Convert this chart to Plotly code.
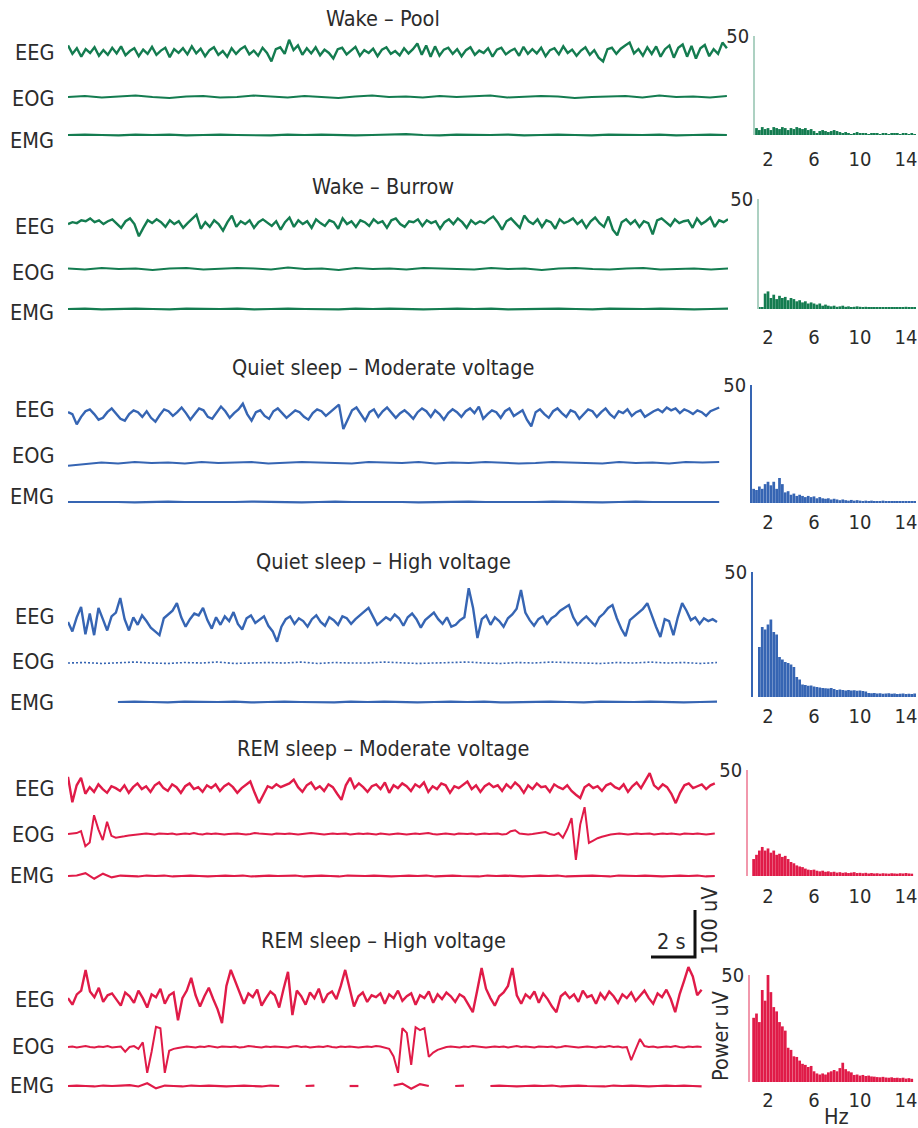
import plotly.graph_objects as go

# ---------------- data ----------------
TITLES = ["Wake \u2013 Pool", "Wake \u2013 Burrow", "Quiet sleep \u2013 Moderate voltage",
          "Quiet sleep \u2013 High voltage", "REM sleep \u2013 Moderate voltage", "REM sleep \u2013 High voltage"]
CHANNELS = ["EEG", "EOG", "EMG"]

# EEG in uV (0.2 s steps)
EEG_WAKE_POOL = [14, -4, 8, -10, 6, -2, 10, -8, 4, -6, 9, -3, 12, -7, 2, 8, -9, 5, -4, 11,
                 -6, 3, 9, -11, 6, -2, 8, -5, 12, -3, 7, -9, 4, 10, -6, 2, -10, 8, -4, 6,
                 12, -5, 3, -8, 9, -2, -20, 6, 10, -4, 26, 4, 14, -6, 8, -3, 10, -7, 5, -2,
                 -14, 6, 9, -5, 3, 11, -8, 4, -2, 7, -9, 5, 10, -4, 2, -7, 8, -3, 6, 18,
                 -6, 14, -10, 12, -8, 5, 9, -4, 6, -9, 4, 10, -6, 3, -2, 8, -10, 5, 9, -5,
                 2, 7, -8, 11, -4, 6, -3, 9, -9, 4, 8, -5, 12, -2, 5, -8, 3, 10, -6, 4,
                 -12, -20, 6, 9, -4, 7, 14, 20, -3, 6, -8, 10, -4, 12, -10, 6, 14, -12, 9, 16,
                 -10, 13, -14, 8, 15, -9, 6, -4, 20, 8]
EEG_WAKE_BURROW = [2, 6, 4, 10, 8, 14, 6, 10, 2, 8, 12, 4, -6, 8, 14, 2, -24, -6, 10, 4,
                   12, 6, -4, 10, 2, 8, -6, 4, 12, 22, -8, 6, -4, 10, 2, -12, 6, 20, -4, 8,
                   2, 10, -6, 6, 12, 4, -2, 8, -10, 6, 16, -4, 10, 2, 8, -6, 12, 4, -2, 10,
                   6, -8, 14, 2, 8, -4, 10, 6, -2, 12, 4, 8, -6, 10, 14, 2, -4, 8, 6, 12,
                   -2, 10, 4, 8, -8, 6, 12, 2, 14, 6, -6, 10, 2, 8, 4, 12, 18, 6, -10, 8,
                   14, 4, -6, 20, 8, 2, 12, -4, 10, 6, -8, 12, 4, 8, 14, 2, 10, -6, 8, 16,
                   4, -4, 18, -10, -22, 6, 12, 2, 10, -4, 8, 4, -20, 10, 14, 6, -2, 12, 4, 8,
                   10, -6, 14, 2, 8, 16, -4, 10, 6, 12]
EEG_QS_MODERATE = [6, 2, -20, -4, 8, 12, 2, -10, -6, 6, 14, 4, -8, -12, 2, 10, 6, -4, 8, -6,
                   -14, 0, 12, 8, -2, 6, 16, 4, -10, 2, 14, 10, -4, -8, 6, 18, 8, -6, 4, 12,
                   24, 2, -12, 6, 10, -2, -8, 8, 14, 4, -6, 2, 10, 6, -4, -10, 4, 12, 8, -2,
                   6, 14, 22, -30, -8, 10, 16, 2, -12, 6, 12, -4, 8, 16, 6, -6, 4, 10, 2, -8,
                   6, 14, 8, -4, 10, 2, -10, 4, 12, 6, -4, 8, 14, 4, 18, -8, 2, 10, 6, -6,
                   8, 14, -2, 4, 10, -10, -24, 6, 12, 2, -6, 8, 14, 4, -4, 10, 6, -8, 2, 12,
                   8, -4, 6, 14, 2, -6, 8, 4, 12, -2, 6, 10, -4, 2, 8, 12, 6, 16, 10, 14,
                   4, 12, 8, 2, 10, 6, -2, 8, 12, 16]
EEG_QS_HIGH = [0, -20, 10, 32, -26, 18, -28, 30, 6, -18, 12, 20, 51, 6, -18, 10, -6, 14, 2, -12,
               -20, -28, 8, 16, 24, 40, 10, -10, 6, 18, 14, 30, 4, -14, 10, -6, 12, 2, 21, -4,
               -16, 8, 14, -2, 6, 12, -8, -20, -42, -10, 6, 12, -4, 8, 2, -10, 6, 14, 0, -8,
               10, 4, -6, 12, 8, -4, 6, 14, 20, 30, 12, -6, 2, 10, 4, 16, 8, -8, 10, 18,
               6, -12, 4, 12, 20, 6, -4, 10, -10, -6, 4, 10, 72, 30, -34, 6, 14, -6, 10, 2,
               -10, 8, 16, 28, 68, 20, 4, -8, 6, 12, -4, 8, 14, 24, 30, 36, 10, -6, 4, 12,
               2, -8, 10, 18, 30, 36, 8, -14, -30, 4, 12, 20, 28, 40, 14, -10, -32, 6, 2, -28,
               10, 40, 24, 4, 10, -4, 8, 2, 6, 0]
EEG_REM_MODERATE = [28, -26, 10, 26, -8, 6, -4, 12, 2, -6, 8, 4, -2, 10, -6, 6, 14, 2, 8, -4,
                    10, 16, 4, -2, 12, 6, -6, 8, 14, 2, 6, -4, 10, 4, 12, -2, 8, 14, 6, -6,
                    4, 12, 18, -6, -28, -10, 8, 4, 12, 6, 10, 14, 22, 6, -4, 10, 16, 2, 8, -2,
                    12, 6, -8, -21, 10, 26, 4, 14, 6, -4, 8, 12, 2, 16, -6, 10, 4, 14, 8, -2,
                    12, 6, 16, -4, 8, 2, 14, 10, -6, 8, 4, 12, 18, 2, 10, -4, 8, 14, 6, 10,
                    -2, 12, 4, 16, 8, -6, 10, 2, 14, 6, 8, -4, 12, 6, 2, 10, -2, -10, -17, 6,
                    12, 4, 8, -2, 10, 14, 6, 2, 12, -4, 8, 16, 4, 20, 36, 10, 2, 12, 6, -8,
                    -28, -6, 10, 14, 4, 8, 12, 2, 10, 14]
EEG_REM_HIGH = [4, -10, 12, 20, 64, 18, 6, 26, -4, 10, 14, 2, -12, 16, 8, -6, 20, 4, -16, 12,
                6, 24, -8, 10, 16, -43, 4, 20, 47, 10, -14, 8, 26, 2, -20, -49, 30, 64, 40, 12,
                -8, 14, 6, 22, -12, 4, 18, 10, -16, 24, 60, -32, 20, 8, -10, 16, 4, 24, -6, 12,
                18, 2, 30, 64, 26, -14, 8, 16, -4, 10, 6, 14, -8, 12, 4, 20, -2, 8, 14, -10,
                10, 4, 18, -6, 12, 2, 16, 8, -4, 12, 6, -10, -26, 20, 68, 24, 4, -12, 8, 16,
                30, 68, 10, -8, 12, 4, 18, -6, 14, 2, -14, -26, 8, 16, 4, 12, -4, 20, 6, 10,
                -8, 14, 2, 18, 8, -6, 12, 4, 16, -2, 10, 20, 4, -8, 14, 6, 22, 2, -26, 12,
                40, 70, 50, 10, 22]

# EOG in uV
EOG_WAKE_POOL = [0, 2, -1, 1, 3, 0, -2, 1, 2, -1, 0, 3, 1, -1, 2, 0, -2, 1, 3, 0,
                 1, -1, 2, 0, 1, 3, -1, 0, 2, 1, -2, 0, 1, 2, -1, 3, 0, 1, -1, 2]
EOG_WAKE_BURROW = [1, -1, 2, 0, 1, -2, 1, 2, -1, 0, 2, 1, -1, 3, 0, 1, -2, 2, 0, 1,
                   -1, 2, 1, 0, -1, 2, 0, 1, -2, 1, 2, 0, -1, 1, 2, -1, 0, 1, -1, 1]
EOG_QS_MODERATE = [-6, -2, 1, -1, 2, 0, 1, -1, 2, 0, 1, 2, -1, 0, 2, 1, 0, -1, 2, 1,
                   0, 2, -1, 1, 0, 2, 1, -1, 0, 2, 1, 0, -1, 2, 0, 1, -1, 2, 1, 2]
EOG_QS_HIGH = [0, 1, -1, 0, 2, 0, -1, 1, 0, 2, -1, 0, 1, 0, 2, -1, 1, 0, 0, 2,
               1, -1, 0, 1, 2, 0, -1, 1, 0, 2, 1, 0, -1, 1, 0, 2, 0, 1, -1, 1]
EOG_REM_MODERATE = [0, 1, 2, 6, -26, -18, 40, 10, -13, 26, -4, -8, -7, -5, -3, -2,
                    -1, 0, 1, 0, -1, 1, 0, 0, 1, -1, 0, 1, 0, 2, 0, -1, 1, 0, 1, 0,
                    -1, 0, 1, 1, 0, -1, 0, 2, 1, 0, 0, -1, 1, 0, 0, 1, 0, -1, 0, 1,
                    2, 1, 0, -1, 0, 1, 0, 0, 1, -1, 0, 1, 0, 1, 0, -1, 1, 0, -1, 0,
                    1, 0, -1, 0, 1, 0, 1, 2, 0, -1, 0, 1, 0, -1, 1, 0, 0, 1, -1, 0,
                    1, 0, 0, 1, -1, 0,
                    6, 8, 1, 0, -1, 0, 1, 2, 4, 0, -2, 2, -8, 10,
                    34, -55, 20, 57, -19, -14, -9, -6, -3, -1,
                    0, 1, 0, -1, 0, 1, 0, 0, 1, -1, 0, 1, 0, 1, 0, -1, 1, 0, 0, 1, 0, -1, 0, 1]
EOG_REM_HIGH = [0, 1, -1, 0, 2, 0, -1, 1, 0, 2, -1, 0, 1,
                -10, 0, 2, -4, 10, -55, -10, 43, 40, -55, -8, -4, -2, 0,
                1, 0, -1, 1, 0, 2, 0, -1, 1, 0, 0, 1, -1, 0, 2, 1, 0, -1, 1, 0,
                1, 0, 0, -1, 1, 2, 0, 1, -1, 0, 1, 0, 2, 0, -1, 1, 0, 1, 0, -1,
                0, 1, 0, 2, 1, -1, -4,
                -20, -55, 40, 30, -38, 42, 36, 40, -21, -12, -6, -3, 0,
                1, 0, -1, 1, 0, 2, 1, 0, -1, 0, 1, 0, 1, -1, 0, 2, 0, 1, 0, -1,
                1, 0, 0, 1, -1, 0, 2, 1, 0, -1, 0, 1, 0, -1, 1, 0, 2, 0, 1, -1, 0,
                -28, -5, 17, 2, 0,
                1, -1, 0, 1, 0, 2, 0, -1, 1, 0, 1, 0]

# EMG in uV (None = trace not drawn in the original)
EMG_WAKE_POOL = [0, 1, 0, -1, 1, 0, 1, -1, 0, 1, 0, 0, -1, 1, 0, 1, 0, -1, 0, 1,
                 2, 0, -1, 1, 0, 0, 1, -1, 0, 1, 0, -1, 1, 0, 0, 1, -1, 0, 1, 0]
EMG_WAKE_BURROW = [0, 1, -1, 0, 1, 0, -1, 1, 0, 0, 1, -1, 0, 1, 0, 0, -1, 1, 0, 1,
                   0, -1, 0, 1, 0, 1, -1, 0, 0, 1, 0, -1, 1, 0, 0, 1, 0, -1, 0, 1]
EMG_QS_MODERATE = [0, 0, 1, 0, -1, 0, 1, 0, 0, -1, 0, 1, 0, 0, -1, 0, 1, 0, 0, 1,
                   0, -1, 0, 0, 1, 0, 0, -1, 0, 1, 0, 0, -1, 0, 1, 0, 0, 1, 0, 0]
EMG_QS_HIGH = [None, None, None, 0, 1, 0, -1, 1, 0, 0, 1, -1, 0, 1, 0, 0, -1, 1, 0, 1,
               0, -1, 0, 1, 0, 1, -1, 0, 0, 1, 0, -1, 1, 0, 0, 1, 0, -1, 0, 1]
EMG_REM_MODERATE = [0, 1, 6, -6, 5, -3, 1, 0, -1, 1, 0, 1, -1, 0, 1, 0, -1, 0, 1, 0,
                    1, -1, 0, 1, 0, 0, 1, -1, 0, 1, 0, -1, 1, 0, 0, 1, 0, -1, 0, 1,
                    0, 1, -1, 0, 1, 0, 0, -1, 1, 0, 1, 0, -1, 0, 1, 0, 1, -1, 0, 0,
                    1, 0, -1, 1, 0, 0, 1, 0, -1, 0, 1, 0, 1, -1, 0]
EMG_REM_HIGH = [0, 1, 0, -1, 1, 0, 1, 2, -1, 6, -5, 1, 0, -1, 1, 0, 1, 0, -1, 0,
                1, 0, -1, 1, 0, None, None, 0, 1, None, None, None, 0, 0, None, None, None, 1,
                5, -6, 4, 0, None, None, 0, 1, None, None, 0,
                1, 0, -1, 0, 1, 0, 1, -1, 0, 1, 0, 0, -1, 1, 0, 1, 0, -1, 0, 1, 0, 1, 0, -1]

EEG = [EEG_WAKE_POOL, EEG_WAKE_BURROW, EEG_QS_MODERATE, EEG_QS_HIGH, EEG_REM_MODERATE, EEG_REM_HIGH]
EOG = [EOG_WAKE_POOL, EOG_WAKE_BURROW, EOG_QS_MODERATE, EOG_QS_HIGH, EOG_REM_MODERATE, EOG_REM_HIGH]
EMG = [EMG_WAKE_POOL, EMG_WAKE_BURROW, EMG_QS_MODERATE, EMG_QS_HIGH, EMG_REM_MODERATE, EMG_REM_HIGH]
DURATION_S = [29.95, 30.0, 29.6, 29.5, 29.4, 28.8]

# Power spectra (power uV) at 0.25 Hz bins
FREQ_HZ = [0.75, 1.0, 1.25, 1.5, 1.75, 2.0, 2.25, 2.5, 2.75, 3.0, 3.25, 3.5, 3.75, 4.0, 4.25,
           4.5, 4.75, 5.0, 5.25, 5.5, 5.75, 6.0, 6.25, 6.5, 6.75, 7.0, 7.25, 7.5, 7.75, 8.0,
           8.25, 8.5, 8.75, 9.0, 9.25, 9.5, 9.75, 10.0, 10.25, 10.5, 10.75, 11.0, 11.25, 11.5,
           11.75, 12.0, 12.25, 12.5, 12.75, 13.0, 13.25, 13.5, 13.75, 14.0, 14.25, 14.5, 14.75]
SPEC_WAKE_POOL = [0.5, 3.5, 2.5, 4, 3, 3.5, 2.5, 4, 3.5, 3, 4, 3.5, 2.5, 3.5, 3, 4, 3.5, 3, 3.5,
                  2.5, 3, 2, 1, 2, 2.5, 2, 1.5, 2, 2.5, 2, 1.5, 1, 1.5, 1, 0.5, 1, 1.5, 1, 0.8,
                  1, 0.5, 0.8, 1, 0.8, 0.5, 0.8, 1, 0.5, 0.8, 1, 0.8, 0.5, 0.8, 1, 0.5, 0.8, 0.5]
SPEC_WAKE_BURROW = [0, 0, 0.5, 0.5, 7, 8, 5, 6.5, 4.5, 6, 5, 5.5, 4, 5, 4.5, 3.5, 4, 3, 3.5,
                    2.5, 3, 2.5, 2, 2.5, 1.5, 2, 1.5, 1.2, 1.5, 1, 1.2, 1.5, 1, 1.2, 0.8, 1,
                    1.2, 1, 0.8, 1, 0.8, 0.6, 0.8, 0.5, 0.6, 0.8, 0.5, 0.6, 0.8, 0.5, 0.6, 0.8,
                    0.6, 1, 0.8, 0.6, 0.8]
SPEC_QS_MODERATE = [6, 5.5, 7, 6, 8, 9, 7.5, 9, 6, 10.6, 8, 4.5, 5, 3.5, 4, 3, 3.5, 3, 2.5, 3,
                    2.5, 2.8, 2, 2.5, 2, 1.8, 2, 1.5, 1.8, 1.5, 1.2, 1.5, 1.2, 1, 1.3, 1, 1.2,
                    1, 0.8, 1, 0.8, 1, 0.8, 0.6, 0.8, 1, 0.6, 0.8, 0.6, 0.8, 0.5, 0.8, 0.6, 0.8,
                    0.6, 0.5, 0.6]
SPEC_QS_HIGH = [0, 0, 20, 28, 27, 29, 31, 26, 25, 16, 15, 14, 13.6, 13, 12, 8, 7, 5, 4.8, 4.5,
                4.6, 4.2, 4, 3.8, 3.6, 3.5, 3.4, 3.6, 3.2, 2.8, 3, 2.8, 2.6, 2.8, 2.6, 2.7, 2.5,
                2.6, 2.4, 2.2, 1.6, 1.5, 1.6, 1.4, 1.5, 1.3, 1.4, 1.5, 1.3, 1.4, 1.2, 1.3, 1.4,
                1.2, 1.3, 1.2, 1.4]
SPEC_REM_MODERATE = [8, 10, 12, 13.7, 12, 13, 11, 12, 10, 10.5, 9, 9.5, 8, 6.6, 6, 5, 4.5, 4.2,
                     3.5, 3, 2.8, 3, 2.5, 2.2, 2.5, 2, 2.2, 1.8, 2, 1.6, 1.8, 1.5, 1.7, 1.4, 1.6,
                     1.8, 1.4, 1.5, 1.3, 1.5, 1.2, 1.4, 1.2, 1.3, 1.1, 1.3, 1.2, 1.1, 1.3, 1.2,
                     1.1, 1.3, 1.2, 1.4, 1.2, 1.1, 0]
SPEC_REM_HIGH = [30, 32, 28, 43, 38, 50, 42, 35, 33, 28, 26, 24, 16, 15, 12, 11.7, 10, 8.5, 8, 7,
                 7.5, 5, 4, 3.5, 4, 3.5, 4.5, 5, 5.6, 5, 6.5, 9, 6, 5, 4.5, 3.3, 3.5, 3, 3.3, 2.8,
                 3, 2.6, 2.5, 2.3, 2.2, 2.4, 2.1, 2, 2.2, 1.9, 2, 1.8, 2, 1.6, 1.8, 1.5, 0]
SPECTRA = [SPEC_WAKE_POOL, SPEC_WAKE_BURROW, SPEC_QS_MODERATE, SPEC_QS_HIGH, SPEC_REM_MODERATE, SPEC_REM_HIGH]

HZ_TICKS = [2, 6, 10, 14]
POWER_TICK = 50
SCALE_SECONDS = 2
SCALE_UV = 100

# ---------------- layout / style constants ----------------
W, H = 918, 1128
FONT = "Liberation Sans Narrow, Arial Narrow, DejaVu Sans Condensed, sans-serif"
TXT = "#2b2b2b"
GREEN, BLUE, RED = "#147c50", "#3665b3", "#e01b48"
COLORS = [GREEN, GREEN, BLUE, BLUE, RED, RED]
TITLE_SIZE, LABEL_SIZE, TICK_SIZE = 21.5, 21.5, 20

PX_PER_UV = 0.47          # 100 uV = 47 px
T_RANGE = [0, 30]
TRACE_X0, TRACE_X1 = 68, 728
CH_HALF_PX = 60

TITLE_Y = [19, 187, 367, 561, 748, 940]
TITLE_X = 383
TRACE_Y = [(52, 97, 135), (225, 269, 309), (415, 463, 502), (622, 663, 702), (790, 834, 876), (1000, 1047, 1086)]
LABEL_Y = [(52, 99, 140), (226, 272, 312), (410, 455, 497), (616, 661, 702), (788, 834, 875), (999, 1046, 1085)]
LABEL_X = 56

SPEC_BASE = [135, 309, 503, 697, 876, 1082]
SPEC_TOP = [36, 199, 385, 572, 770, 975]
SPEC_AXIS_X = [755, 759, 752, 753, 748, 750]
SPEC_TICKLEN = [6, 10, 1, 1, 2, 0]
SPEC_LINE_ALPHA = [0.35, 0.35, 1.0, 1.0, 0.45, 0.45]
HZ0_PX, PX_PER_HZ = 745.0, 11.5

CH_WIDTH = [2.4, 2.0, 2.2]
CH_DASH = {(3, 1): "2px,2px"}

SCALE_T0, SCALE_V0 = 26.5, 17
SCALE_DOMAIN_PX = (905, 965)


def ydom(top_px, bot_px):
    return [max(0.0, 1 - bot_px / H), min(1.0, 1 - top_px / H)]


def rgba(hexcol, a):
    h = hexcol.lstrip("#")
    return "rgba(%d,%d,%d,%.2f)" % (int(h[0:2], 16), int(h[2:4], 16), int(h[4:6], 16), a)


fig = go.Figure()
layout = dict(
    width=W, height=H, margin=dict(l=0, r=0, t=0, b=0, pad=0, autoexpand=False),
    paper_bgcolor="white", plot_bgcolor="rgba(0,0,0,0)",
    showlegend=False, bargap=0.05,
    font=dict(family=FONT, color=TXT, size=LABEL_SIZE),
)
layout["xaxis"] = dict(domain=[TRACE_X0 / W, TRACE_X1 / W], range=T_RANGE, visible=False,
                       fixedrange=True, automargin=False)

annotations = []
ax_i = 0
for p in range(6):
    col = COLORS[p]
    data = [EEG[p], EOG[p], EMG[p]]
    for c in range(3):
        ax_i += 1
        yname = "y" if ax_i == 1 else "y%d" % ax_i
        lname = "yaxis" if ax_i == 1 else "yaxis%d" % ax_i
        cy = TRACE_Y[p][c]
        top = max(0, cy - CH_HALF_PX)
        bot = min(H, cy + CH_HALF_PX)
        layout[lname] = dict(domain=ydom(top, bot), range=[-(bot - cy) / PX_PER_UV, (cy - top) / PX_PER_UV],
                             visible=False, anchor="x", fixedrange=True, automargin=False)
        vals = data[c]
        n = len(vals)
        t = [DURATION_S[p] * k / (n - 1) for k in range(n)]
        dash = CH_DASH.get((p, c), "solid")
        fig.add_trace(go.Scatter(x=t, y=vals, mode="lines", xaxis="x", yaxis=yname,
                                 line=dict(color=col, width=CH_WIDTH[c] if dash == "solid" else 1.6, dash=dash),
                                 connectgaps=False, hoverinfo="skip"))
        annotations.append(dict(text=CHANNELS[c], x=LABEL_X / W, y=1 - LABEL_Y[p][c] / H, xref="paper", yref="paper",
                                 xanchor="right", yanchor="middle", showarrow=False,
                                 font=dict(family=FONT, size=LABEL_SIZE, color=TXT)))
    annotations.append(dict(text=TITLES[p], x=TITLE_X / W, y=1 - TITLE_Y[p] / H, xref="paper", yref="paper",
                            xanchor="center", yanchor="middle", showarrow=False,
                            font=dict(family=FONT, size=TITLE_SIZE, color=TXT)))

# scale bar
ax_i += 1
sb_y = "y%d" % ax_i
layout["yaxis%d" % ax_i] = dict(domain=ydom(*SCALE_DOMAIN_PX),
                                range=[0, (SCALE_DOMAIN_PX[1] - SCALE_DOMAIN_PX[0]) / PX_PER_UV],
                                visible=False, anchor="x", fixedrange=True, automargin=False)
fig.add_trace(go.Scatter(x=[SCALE_T0, SCALE_T0 + SCALE_SECONDS, SCALE_T0 + SCALE_SECONDS],
                         y=[SCALE_V0, SCALE_V0, SCALE_V0 + SCALE_UV], mode="lines", xaxis="x", yaxis=sb_y,
                         line=dict(color="#111111", width=3), hoverinfo="skip"))
annotations.append(dict(text="%d s" % SCALE_SECONDS, x=671 / W, y=1 - 941 / H, xref="paper", yref="paper",
                        xanchor="center", yanchor="middle", showarrow=False,
                        font=dict(family=FONT, size=LABEL_SIZE, color=TXT)))
annotations.append(dict(text="%d uV" % SCALE_UV, x=709 / W, y=1 - 921 / H, xref="paper", yref="paper",
                        xanchor="center", yanchor="middle", textangle=-90, showarrow=False,
                        font=dict(family=FONT, size=LABEL_SIZE, color=TXT)))

# spectra
for p in range(6):
    xi = p + 2
    ax_i += 1
    xname, yname = "x%d" % xi, "y%d" % ax_i
    col = COLORS[p]
    layout["xaxis%d" % xi] = dict(domain=[SPEC_AXIS_X[p] / W, 1.0],
                                  range=[(SPEC_AXIS_X[p] - HZ0_PX) / PX_PER_HZ, (W - HZ0_PX) / PX_PER_HZ],
                                  anchor=yname, tickvals=HZ_TICKS, ticktext=[str(v) for v in HZ_TICKS],
                                  ticks="outside", ticklen=SPEC_TICKLEN[p], tickcolor="rgba(0,0,0,0)",
                                  ticklabeloverflow="allow",
                                  showline=False, showgrid=False, zeroline=False, fixedrange=True,
                                  automargin=False, tickfont=dict(family=FONT, size=TICK_SIZE, color=TXT))
    layout["yaxis%d" % ax_i] = dict(domain=ydom(SPEC_TOP[p], SPEC_BASE[p]), range=[0, POWER_TICK],
                                    anchor=xname, tickvals=[POWER_TICK], ticktext=[str(POWER_TICK)],
                                    ticks="", showline=True, linecolor=rgba(col, SPEC_LINE_ALPHA[p]), linewidth=1.5,
                                    showgrid=False, zeroline=False, fixedrange=True, automargin=False,
                                    ticklabeloverflow="allow",
                                    tickfont=dict(family=FONT, size=TICK_SIZE, color=TXT))
    fig.add_trace(go.Bar(x=FREQ_HZ[:len(SPECTRA[p])], y=SPECTRA[p], xaxis=xname, yaxis=yname,
                         marker=dict(color=col, line=dict(width=0)), hoverinfo="skip"))

annotations.append(dict(text="Power uV", x=720 / W, y=1 - 1036 / H, xref="paper", yref="paper",
                        xanchor="center", yanchor="middle", textangle=-90, showarrow=False,
                        font=dict(family=FONT, size=LABEL_SIZE, color=TXT)))
annotations.append(dict(text="Hz", x=836 / W, y=1 - 1116 / H, xref="paper", yref="paper",
                        xanchor="center", yanchor="middle", showarrow=False,
                        font=dict(family=FONT, size=LABEL_SIZE, color=TXT)))

layout["annotations"] = annotations
fig.update_layout(**layout)
fig.write_html("out.html")
